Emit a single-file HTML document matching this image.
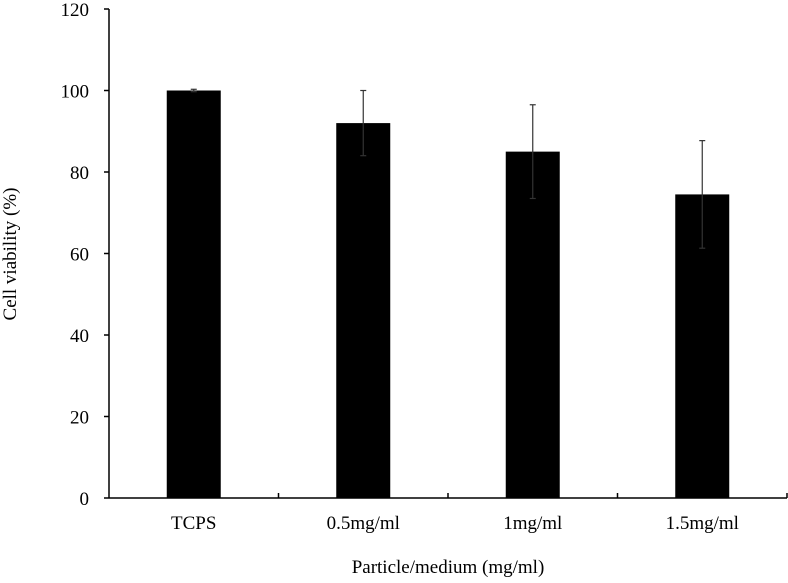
<!DOCTYPE html>
<html><head><meta charset="utf-8"><style>
body{margin:0;background:#fff}
svg text{font-family:"Liberation Serif",serif;font-size:19px;fill:#000}
</style></head><body>
<svg id="chart" width="788" height="578" xmlns="http://www.w3.org/2000/svg"></svg>
<script>
const categories=["TCPS","0.5mg/ml","1mg/ml","1.5mg/ml"];
const values=[100,92,85,74.5];
const errors=[0.3,8,11.5,13.2];
const yTicks=[0,20,40,60,80,100,120];
const svg=document.getElementById('chart');
const NS="http://www.w3.org/2000/svg";
const x0=109,x1=787,yTop=9,yBot=498,yMax=120;
const catW=(x1-x0)/categories.length;
const barW=54;
function y(v){return yBot-(v/yMax)*(yBot-yTop);}
function xc(i){return x0+catW*(i+0.5);}
function mk(tag,attrs,name){const e=document.createElementNS(NS,tag);for(const k in attrs)e.setAttribute(k,attrs[k]);


svg.appendChild(e);return e;}
categories.forEach((c,i)=>{
  mk('rect',{x:xc(i)-barW/2,y:y(values[i]),width:barW,height:yBot-y(values[i]),fill:'#000'},'bar-'+i);
  const hi=y(values[i]+errors[i]),lo=y(values[i]-errors[i]);
  mk('line',{x1:xc(i),x2:xc(i),y1:hi,y2:lo,stroke:'#333','stroke-width':1.2},'error-bar-'+i);
  mk('line',{x1:xc(i)-3,x2:xc(i)+3,y1:hi,y2:hi,stroke:'#333','stroke-width':1.2},'error-cap-top-'+i);
  mk('line',{x1:xc(i)-3,x2:xc(i)+3,y1:lo,y2:lo,stroke:'#333','stroke-width':1.2},'error-cap-bottom-'+i);
  const t=mk('text',{x:xc(i),y:529,'text-anchor':'middle'},'x-tick-label-'+i);t.textContent=c;
  if(i>0)mk('line',{x1:x0+catW*i,x2:x0+catW*i,y1:yBot,y2:yBot-5,stroke:'#000','stroke-width':1.5},'x-tick-'+i);
});
mk('line',{x1:x1,x2:x1,y1:yBot,y2:yBot-5,stroke:'#000','stroke-width':1.5},'x-tick-end');
mk('line',{x1:x0,x2:x0,y1:yTop,y2:yBot,stroke:'#000','stroke-width':1.5},'y-axis');
mk('line',{x1:x0,x2:x1,y1:yBot,y2:yBot,stroke:'#000','stroke-width':1.5},'x-axis');
yTicks.forEach(v=>{
  mk('line',{x1:x0-5,x2:x0,y1:y(v),y2:y(v),stroke:'#000','stroke-width':1.5},'y-tick-'+v);
  const t=mk('text',{x:89,y:y(v)+7,'text-anchor':'end'},'y-tick-label-'+v);t.textContent=v;
});
const yt=mk('text',{x:0,y:0,'text-anchor':'middle',transform:'translate(16,254) rotate(-90)'},'y-axis-title');yt.textContent='Cell viability (%)';
const xt=mk('text',{x:448,y:573,'text-anchor':'middle'},'x-axis-title');xt.textContent='Particle/medium (mg/ml)';
</script>
</body></html>
